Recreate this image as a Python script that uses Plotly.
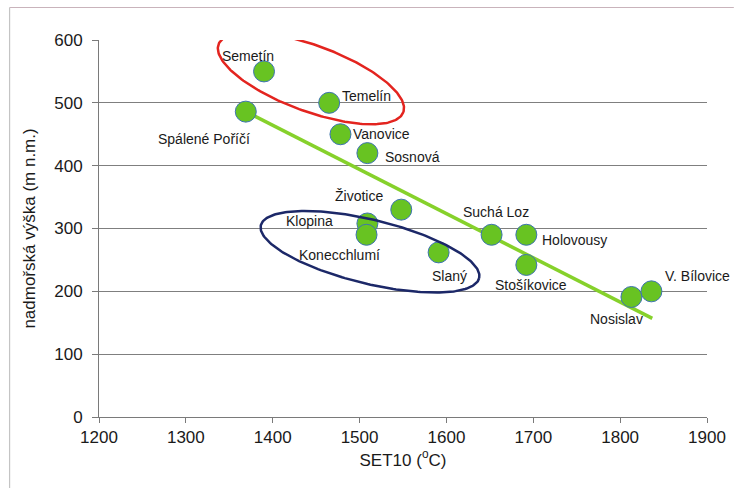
import numpy as np
import plotly.graph_objects as go

# --- data -------------------------------------------------------------
sites = ["Semetín", "Temelín", "Spálené Poříčí", "Vanovice", "Sosnová",
         "Životice", "Klopina", "Konecchlumí", "Slaný", "Suchá Loz",
         "Holovousy", "Stošíkovice", "Nosislav", "V. Bílovice"]
set10 = [1390, 1465, 1369, 1478, 1509, 1548, 1509, 1508, 1591, 1652,
         1692, 1692, 1813, 1836]
altitude = [550, 500, 486, 450, 420, 330, 308, 290, 262, 290,
            290, 242, 191, 200]

trend_x = [1369, 1837]
trend_y = [486, 157]

x_ticks = [1200, 1300, 1400, 1500, 1600, 1700, 1800, 1900]
y_ticks = [0, 100, 200, 300, 400, 500, 600]

# --- layout geometry --------------------------------------------------
W, H = 738, 488
M_L, M_R, M_T, M_B = 99, 27, 40, 71
X_RANGE = (1200, 1900)
Y_RANGE = (0, 600)
px_per_x = (W - M_L - M_R) / (X_RANGE[1] - X_RANGE[0])
px_per_y = (H - M_T - M_B) / (Y_RANGE[1] - Y_RANGE[0])

# label offsets in pixels (dx right, dy down) from each marker
label_offsets = {
    "Semetín": (-16, -15), "Temelín": (37, -7), "Spálené Poříčí": (-42, 27),
    "Vanovice": (41, 0), "Sosnová": (45, 4), "Životice": (-42, -14),
    "Klopina": (-58, -2), "Konecchlumí": (-27, 20), "Slaný": (11, 24),
    "Suchá Loz": (4, -23), "Holovousy": (48, 5), "Stošíkovice": (5, 20),
    "Nosislav": (-15, 22), "V. Bílovice": (46, -15),
}

# group outlines: centre (data), semi-axes (px), tilt (deg, clockwise)
groups = [
    dict(cx=1444, cy=539, a=99, b=33, tilt=20, color="#e3241f"),
    dict(cx=1512, cy=263, a=113, b=32, tilt=13.5, color="#1c2868"),
]


def ellipse(cx, cy, a, b, tilt):
    t = np.linspace(0, 2 * np.pi, 240)
    th = np.radians(tilt)
    ex = a * np.cos(t) * np.cos(th) - b * np.sin(t) * np.sin(th)
    ey = a * np.cos(t) * np.sin(th) + b * np.sin(t) * np.cos(th)
    return cx + ex / px_per_x, cy - ey / px_per_y


FONT = "Liberation Sans, Arial, sans-serif"
fig = go.Figure()

# regression line
fig.add_trace(go.Scatter(
    x=trend_x, y=trend_y, mode="lines",
    line=dict(color="#86d12b", width=3.5), hoverinfo="skip",
))

# site markers
fig.add_trace(go.Scatter(
    x=set10, y=altitude, mode="markers", text=sites,
    marker=dict(size=21, color="#68c322",
                line=dict(color="#3d73b2", width=1)),
    cliponaxis=False,
))

# group ellipses
for g in groups:
    ex, ey = ellipse(g["cx"], g["cy"], g["a"], g["b"], g["tilt"])
    fig.add_trace(go.Scatter(
        x=ex, y=ey, mode="lines", line=dict(color=g["color"], width=2.5),
        hoverinfo="skip", cliponaxis=False,
    ))

for name, xv, yv in zip(sites, set10, altitude):
    dx, dy = label_offsets[name]
    fig.add_annotation(
        x=xv, y=yv, text=name, showarrow=False,
        xshift=dx, yshift=-dy,
        font=dict(family=FONT, size=14, color="#1a1a1a"),
    )

# outer frame lines (top and left)
fig.add_shape(type="line", xref="paper", yref="paper",
              x0=-(M_L - 9) / (W - M_L - M_R), x1=1 + M_R / (W - M_L - M_R),
              y0=1 + (M_T - 7.5) / (H - M_T - M_B),
              y1=1 + (M_T - 7.5) / (H - M_T - M_B),
              line=dict(color="#c9b3bb", width=1.2))
fig.add_shape(type="line", xref="paper", yref="paper",
              x0=-(M_L - 9) / (W - M_L - M_R), x1=-(M_L - 9) / (W - M_L - M_R),
              y0=-M_B / (H - M_T - M_B), y1=1 + (M_T - 7.5) / (H - M_T - M_B),
              line=dict(color="#c4c4c4", width=1.2))

fig.update_layout(
    width=W, height=H,
    margin=dict(l=M_L, r=M_R, t=M_T, b=M_B),
    paper_bgcolor="white", plot_bgcolor="white",
    showlegend=False,
    font=dict(family=FONT, size=17, color="#1a1a1a"),
)
fig.update_xaxes(
    range=list(X_RANGE), tickvals=x_ticks, showgrid=False, zeroline=False,
    showline=True, linecolor="#7a7a7a", linewidth=1,
    ticks="outside", ticklen=5, tickcolor="#7a7a7a",
    tickfont=dict(size=17),
    title=dict(text="SET10 (<sup>o</sup>C)", font=dict(size=17), standoff=6),
)
fig.update_yaxes(
    range=list(Y_RANGE), tickvals=y_ticks, showgrid=True,
    gridcolor="#7f7f7f", gridwidth=1, zeroline=False,
    showline=True, linecolor="#7a7a7a", linewidth=1,
    ticks="outside", ticklen=6, tickcolor="#7a7a7a",
    tickfont=dict(size=17), ticklabelstandoff=6,
    title=dict(text="nadmořská výška (m n.m.)", font=dict(size=17), standoff=14),
)

fig.write_html("out.html")
